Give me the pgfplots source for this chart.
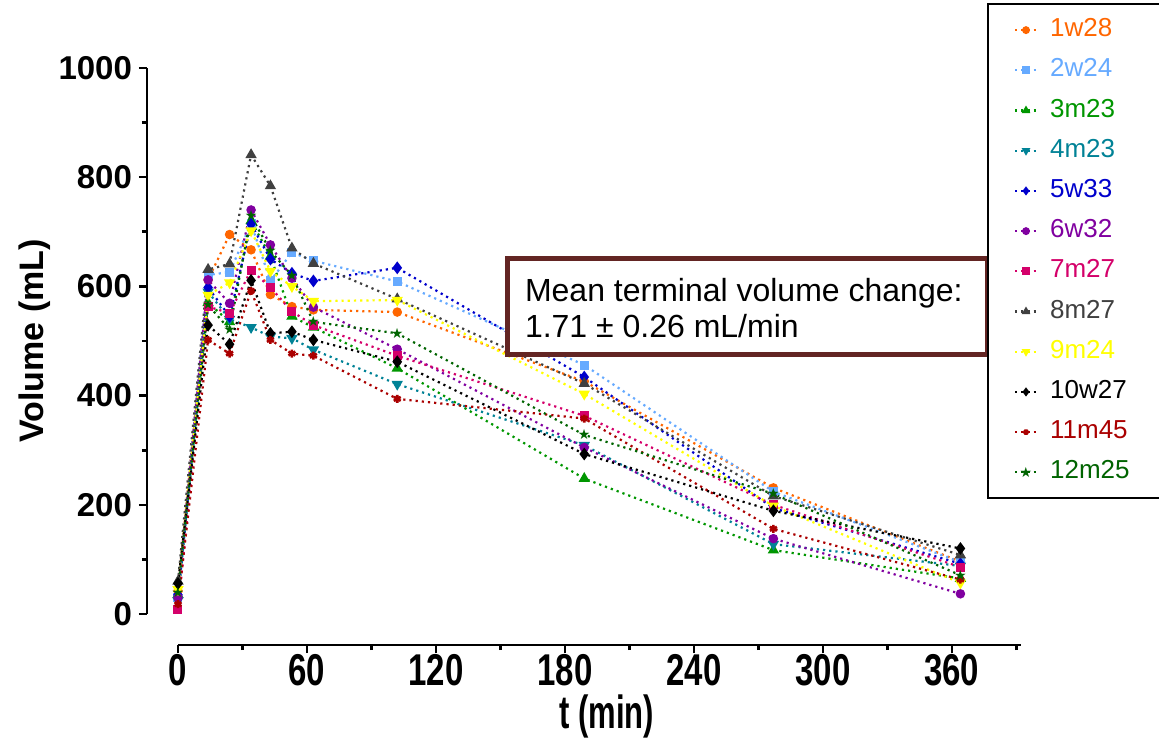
\documentclass[border=0pt]{standalone}
\usepackage{graphicx}
\usepackage{pgfplots}
\pgfplotsset{compat=1.18}
\usepackage{pgfplotstable}
\usepackage{fontspec}
\setmainfont{Liberation Sans}
\newfontfamily\starfont{DejaVu Sans}
\usetikzlibrary{plotmarks}

\definecolor{c1}{RGB}{255,102,0}
\definecolor{c2}{RGB}{102,170,255}
\definecolor{c3}{RGB}{0,150,0}
\definecolor{c4}{RGB}{0,130,150}
\definecolor{c5}{RGB}{0,0,204}
\definecolor{c6}{RGB}{128,0,160}
\definecolor{c7}{RGB}{212,0,106}
\definecolor{c8}{RGB}{64,64,64}
\definecolor{c9}{RGB}{255,255,0}
\definecolor{c10}{RGB}{0,0,0}
\definecolor{c11}{RGB}{170,0,0}
\definecolor{c12}{RGB}{0,100,0}
\definecolor{boxbrown}{RGB}{99,37,35}

\pgfplotstableread{
t   a   b   c   d   e   f   g   h   i   j   k   l
0   42  30  35  25  35  30  8   60  45  56  18  40
14  612 621 570 590 598 612 563 631 584 529 502 566
24  695 626 535 540 545 569 551 641 607 494 477 521
34  667 715 720 525 714 740 630 841 702 611 592 729
43  585 610 655 508 650 676 598 784 628 514 502 665
53  563 662 545 505 624 615 554 670 600 517 477 620
63  557 647 525 484 610 562 529 642 573 502 473 535
102 553 609 450 421 634 485 473 577 575 462 394 514
189 426 456 248 309 434 305 363 422 403 293 358 328
277 231 224 117 128 194 138 200 216 198 189 156 220
364 96  95  65  88  92  37  86  108 57  120 63  71
}\data

\begin{document}
\begin{tikzpicture}
\begin{axis}[
  scale only axis,
  width=421.3pt, height=273pt,
  xmin=0, xmax=392, ymin=0, ymax=1000,
  clip=false,
  axis lines*=left,
  axis x line shift=15.5pt,
  axis y line shift=15.5pt,
  axis line style={line width=1.3pt},
  tick style={line width=1.3pt, black},
  tick align=outside,
  major tick length=4pt,
  minor tick length=2.5pt,
  xtick={0,60,...,360},
  minor xtick={30,90,...,390},
  ytick={0,200,...,1000},
  minor ytick={100,300,...,900},
  /pgf/number format/assume math mode=true,
  /pgf/number format/1000 sep={},
  tick label style={font=\bfseries\fontsize{16.5}{18}\selectfont},
  xticklabel style={yshift=3pt},
  xticklabel={\scalebox{1}[1.35]{\pgfmathprintnumber{\tick}}},
  xlabel={\scalebox{1}[1.5]{t (min)}},
  ylabel={Volume (mL)},
  every axis x label/.style={at={(axis description cs:0.509,-0.188)}, anchor=center,
    font=\bfseries\fontsize{15.5}{17}\selectfont},
  every axis y label/.style={at={(axis description cs:-0.1696,0.5)}, rotate=90, anchor=center,
    font=\bfseries\fontsize{17}{19}\selectfont},
  every axis plot/.append style={line width=1.1pt, dash pattern=on 1.1pt off 2pt},
  legend image code/.code={
    \draw[mark repeat=2, mark phase=2, mark size=1.4pt] plot coordinates {(0pt,0pt) (5.5pt,0pt) (11pt,0pt)};
    \path (15pt,0pt);
  },
  legend style={at={(axis description cs:0.960,1.119)}, anchor=north west,
    draw=black, line width=1pt, fill=white,
    inner xsep=13pt, inner ysep=3pt, row sep=0pt,
    font=\fontsize{13}{15}\selectfont,
    nodes={text height=9.5pt, text depth=3pt, inner ysep=3.8pt}},
  legend cell align=left,
]
\addplot[c1, mark=*, mark size=1.8pt, mark options={solid, fill=c1}] table[x=t, y=a] {\data};
\addlegendentry{\makebox[60pt][l]{\textcolor{c1}{1w28}}}
\addplot[c2, mark=square*, mark size=1.7pt, mark options={solid, fill=c2}] table[x=t, y=b] {\data};
\addlegendentry{\makebox[60pt][l]{\textcolor{c2}{2w24}}}
\addplot[c3, mark=triangle*, mark size=2.2pt, mark options={solid, fill=c3}] table[x=t, y=c] {\data};
\addlegendentry{\makebox[60pt][l]{\textcolor{c3}{3m23}}}
\addplot[c4, mark=triangle*, mark size=2.2pt, mark options={solid, fill=c4, rotate=180}] table[x=t, y=d] {\data};
\addlegendentry{\makebox[60pt][l]{\textcolor{c4}{4m23}}}
\addplot[c5, mark=diamond*, mark size=2.3pt, mark options={solid, fill=c5}] table[x=t, y=e] {\data};
\addlegendentry{\makebox[60pt][l]{\textcolor{c5}{5w33}}}
\addplot[c6, mark=*, mark size=1.8pt, mark options={solid, fill=c6}] table[x=t, y=f] {\data};
\addlegendentry{\makebox[60pt][l]{\textcolor{c6}{6w32}}}
\addplot[c7, mark=square*, mark size=1.7pt, mark options={solid, fill=c7}] table[x=t, y=g] {\data};
\addlegendentry{\makebox[60pt][l]{\textcolor{c7}{7m27}}}
\addplot[c8, mark=triangle*, mark size=2.2pt, mark options={solid, fill=c8}] table[x=t, y=h] {\data};
\addlegendentry{\makebox[60pt][l]{\textcolor{c8}{8m27}}}
\addplot[c9, mark=triangle*, mark size=2.2pt, mark options={solid, fill=c9, rotate=180}] table[x=t, y=i] {\data};
\addlegendentry{\makebox[60pt][l]{\textcolor{c9}{9m24}}}
\addplot[c10, mark=diamond*, mark size=2.3pt, mark options={solid, fill=c10}] table[x=t, y=j] {\data};
\addlegendentry{\makebox[60pt][l]{\textcolor{c10}{10w27}}}
\addplot[c11, mark=asterisk, mark size=2pt, mark options={solid, line width=1.3pt}] table[x=t, y=k] {\data};
\addlegendentry{\makebox[60pt][l]{\textcolor{c11}{11m45}}}
\addplot[c12, mark=text, text mark={\starfont\fontsize{7}{7}\selectfont\textcolor{c12}{★}}, mark size=2pt, mark options={solid}] table[x=t, y=l] {\data};
\addlegendentry{\makebox[60pt][l]{\textcolor{c12}{12m25}}}

\node[draw=boxbrown, line width=2.5pt, fill=white, minimum width=240pt,
      minimum height=48pt, inner sep=0pt] (nb) at (axis cs:265,563) {};
\node[anchor=west, align=left, inner sep=0pt, font=\fontsize{16}{18}\selectfont]
  at ([xshift=9.75pt, yshift=-0.5pt]nb.west) {Mean terminal volume change:\\1.71 ± 0.26 mL/min};
\end{axis}
\pgfresetboundingbox
\path[use as bounding box] (-89pt,-65pt) rectangle (490.5pt,307pt);
\end{tikzpicture}
\end{document}
